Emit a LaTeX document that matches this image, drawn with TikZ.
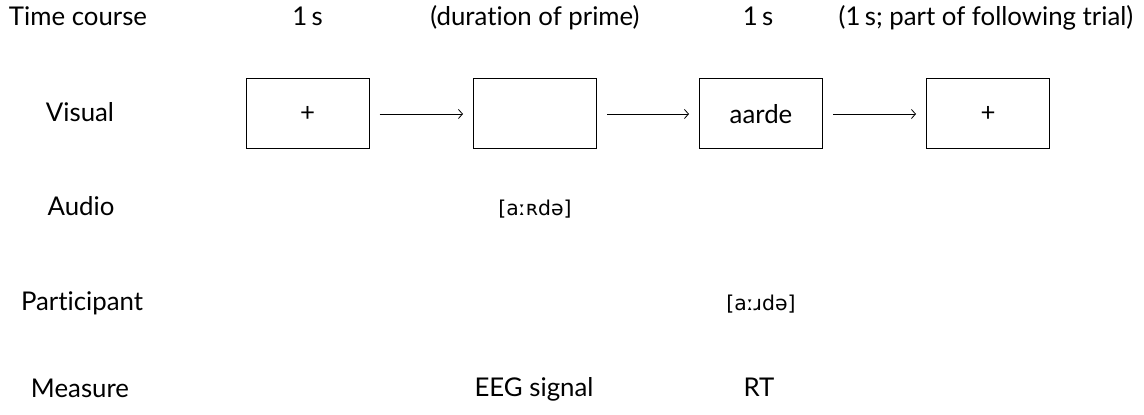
\documentclass[tikz,border=0pt]{standalone}
\usepackage{fontspec}
\setmainfont{Lato}[Ligatures={NoCommon}]
\newfontfamily\ipafont{DejaVu Sans}
\usetikzlibrary{arrows.meta}
\begin{document}
\begin{tikzpicture}[x=0.5pt,y=-0.5pt,
  every node/.style={font=\fontsize{12.9}{15}\selectfont, inner sep=0pt},
  label/.style={anchor=base},
  screen/.style={draw, line width=0.5pt, minimum width=61.5pt, minimum height=35pt, anchor=center},
  ipa/.style={anchor=base, font=\ipafont\fontsize{10.2}{12}\selectfont},
  flow/.style={line width=0.4pt, -{Straight Barb[length=2pt,width=4.5pt]}, shorten <=5pt, shorten >=5pt}]
  \useasboundingbox (0,0) rectangle (1144,415);

  % row labels
  \node[label] (lt) at (78,26)  {Time course};
  \node[label] (lv) at (80,122) {Visual};
  \node[label] (la) at (81,216) {Audio};
  \node[label] (lp) at (82,311) {Participant};
  \node[label] (lm) at (80,398) {Measure};

  % time course
  \node[label] (t1) at (307.5,26) {1\,s};
  \node[label] (t2) at (535,26)   {(duration of prime)};
  \node[label] (t3) at (758,26)   {1\,s};
  \node[label] (t4) at (986,26)   {(1\,s; part of following trial)};

  % visual screens
  \node[screen] (s1) at (307.5,114) {+};
  \node[screen] (s2) at (535,114)   {};
  \node[screen] (s3) at (761,114)   {aarde};
  \node[screen] (s4) at (988,114)   {+};
  \draw[flow] (s1) -- (s2);
  \draw[flow] (s2) -- (s3);
  \draw[flow] (s3) -- (s4);

  % audio and response
  \node[ipa] (a2) at (535,216) {[aːʀdə]};
  \node[ipa] (p3) at (761,311) {[aːɹdə]};

  % measures
  \node[label] (m2) at (534,397) {EEG signal};
  \node[label] (m3) at (759,397) {RT};
\end{tikzpicture}
\end{document}
